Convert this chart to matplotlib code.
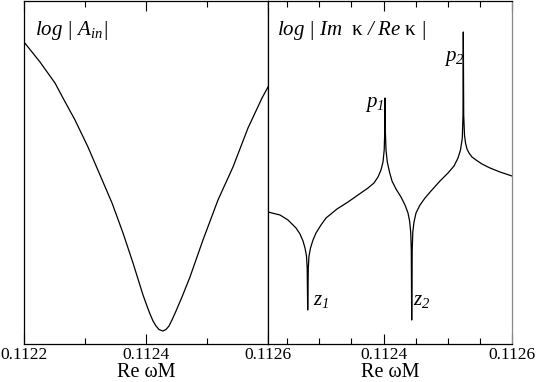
import numpy as np
import matplotlib
matplotlib.use("Agg")
import matplotlib.pyplot as plt
from matplotlib.ticker import FixedLocator

plt.rcParams["font.family"] = ["Liberation Serif", "DejaVu Serif"]
plt.rcParams["mathtext.fontset"] = "custom"
plt.rcParams["mathtext.rm"] = "Liberation Serif:italic"   # italic digits in subscripts
plt.rcParams["mathtext.it"] = "Liberation Serif:italic"
plt.rcParams["mathtext.sf"] = "Liberation Serif"          # upright kappa

# left panel: log|A_in| vs Re wM (arbitrary log units)
x_ain = [0.112200, 0.1122262, 0.1122508, 0.1122639, 0.1122836, 0.1123049,
         0.1123246, 0.1123443, 0.1123623, 0.1123787, 0.1123951, 0.1124016,
         0.1124066, 0.1124115, 0.1124164, 0.1124213, 0.1124274, 0.1124328,
         0.1124377, 0.1124426, 0.1124492, 0.1124590, 0.1124721, 0.1124934,
         0.1125180, 0.1125426, 0.1125672, 0.1125902, 0.1126000]
y_ain = [3.02, 2.82, 2.61, 2.46, 2.24, 1.97, 1.69, 1.41, 1.11, 0.81, 0.49,
         0.38, 0.30, 0.23, 0.18, 0.145, 0.13, 0.145, 0.18, 0.24, 0.33, 0.47,
         0.67, 1.04, 1.44, 1.77, 2.16, 2.46, 2.57]

# right panel: log|Im k / Re k| (pixel columns converted to Re wM)
px_k = [268, 280, 288, 296, 300, 303, 305, 306.5, 307.2, 307.7, 308.3, 309,
        310.5, 313, 316, 321, 326, 337, 348, 358, 368, 374, 378, 381, 383,
        384.2, 384.8, 385, 385.3, 386, 387.3, 389.5, 392, 396, 401, 405, 408,
        409.6, 410.7, 411.3, 411.7, 412.2, 412.8, 414, 416, 420, 425, 431,
        440, 448, 454, 458, 460.5, 462.3, 463, 463.3, 463.7, 464.5, 465.5,
        467, 469, 472, 476, 482, 490, 500, 512]
py_k = [212, 215, 220, 228, 234, 241, 248, 256, 268, 310, 268, 256, 248, 240,
        233, 225, 218, 209, 202, 195, 188, 183, 177, 170, 162, 150, 130, 98,
        130, 150, 162, 172, 181, 189, 197, 205, 213, 221, 232, 250, 320, 250,
        232, 222, 213, 205, 198, 191, 181, 173, 166, 158, 150, 138, 115, 32,
        115, 135, 143, 149, 153, 157, 160, 164, 168, 172, 176]
x_k = [0.11222 + (p - 268) * 0.00038 / 244 for p in px_k]
y_k = [(344 - p) / 100 for p in py_k]

labels_pz = ["$p_1$", "$p_2$", "$z_1$", "$z_2$"]
pz_x = [0.1123860, 0.1125100, 0.1123025, 0.1124600]
pz_y = [2.40, 2.86, 0.44, 0.44]

W, H = 537, 382
fig = plt.figure(figsize=(W / 100, H / 100), dpi=100)
axL = fig.add_axes([24 / W, 38 / H, 244 / W, 343 / H])
axR = fig.add_axes([268 / W, 38 / H, 244 / W, 343 / H])

for ax in (axL, axR):
    ax.set_ylim(0, 3.43)
    ax.set_yticks([])
    ax.tick_params(axis="x", which="both", direction="in", top=True,
                   labelsize=12.5, pad=2.5, width=0.8)
    ax.tick_params(axis="x", which="major", length=7)
    ax.tick_params(axis="x", which="minor", length=4)
    for s in ax.spines.values():
        s.set_linewidth(0.9)
    ax.set_xlabel("Re ωM", fontsize=14.5, labelpad=0)

axL.plot(x_ain, y_ain, color="black", lw=0.9)
axL.set_xlim(0.1122, 0.1126)
axL.xaxis.set_major_locator(FixedLocator([0.1122, 0.1124, 0.1126]))
axL.xaxis.set_minor_locator(FixedLocator([0.1123, 0.1125]))
axL.set_xticklabels(["0.1122", "0.1124", "0.1126"])
axL.text(0.045, 0.915, r"$log\ |\ A_{in}|$", transform=axL.transAxes,
         fontsize=15, va="center")

axR.plot(x_k, y_k, color="black", lw=0.9)
axR.set_xlim(0.11222, 0.1126)
axR.xaxis.set_major_locator(FixedLocator([0.1124, 0.1126]))
axR.xaxis.set_minor_locator(FixedLocator([0.11225, 0.1123, 0.11235, 0.11245, 0.1125, 0.11255]))
axR.set_xticklabels(["0.1124", "0.1126"])
axR.spines["right"].set_color("#888888")
axR.text(0.035, 0.915, r"$log\ |\ Im\ \ \mathsf{κ}\ /\ Re\ \mathsf{κ}\ |$",
         transform=axR.transAxes, fontsize=15, va="center")
for lab, xx, yy in zip(labels_pz, pz_x, pz_y):
    axR.text(xx, yy, lab, fontsize=15, ha="center", va="center")

fig.savefig("out.png", dpi=100)
